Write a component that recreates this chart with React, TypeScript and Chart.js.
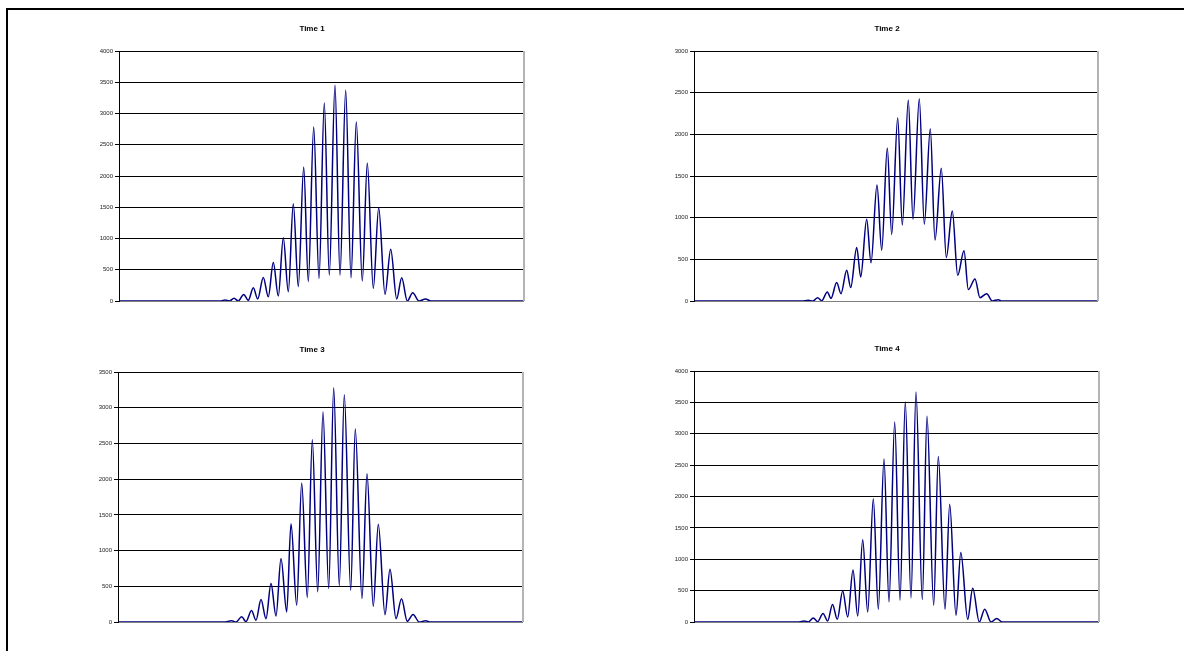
import React, { useEffect, useRef } from 'react';
import { Chart, registerables } from 'chart.js';

Chart.register(...registerables);

const FONT = "'Liberation Sans', Arial, sans-serif";

// Positions along the detector (arbitrary units) and intensity values
const positions1 = [0, 102, 106, 110.5, 115, 119.3, 124.7, 129.3, 134.3, 138.7, 144.3, 149.3, 154.3, 159.3, 164.3, 169.3, 174.3, 179.3, 184.7, 189.3, 194.7, 200, 205.3, 210.3, 216, 221, 226.7, 232, 237.3, 243.3, 248.3, 254.3, 259.7, 266, 271.7, 277.7, 282.7, 288.3, 293.7, 300, 306.5, 312, 404];
const values1 = [0, 0, 15, 0, 43, 0, 106, 11, 212, 32, 378, 69, 615, 80, 1012, 149, 1557, 229, 2144, 309, 2784, 362, 3168, 415, 3451, 415, 3371, 372, 2864, 319, 2208, 202, 1493, 106, 830, 32, 372, 0, 133, 0, 32, 0, 0];

const positions2 = [0, 108, 114.3, 119, 123.7, 127.7, 133.3, 137, 142.7, 147, 152.7, 156.7, 162.7, 166.7, 172.7, 177, 183, 187.7, 193.3, 197.7, 203.7, 208.3, 214.3, 219, 225.3, 230.3, 236.3, 241, 247.3, 252.3, 258.3, 263.7, 270, 274.3, 281, 286, 292.7, 298.3, 304.3, 307.7, 403];
const values2 = [0, 0, 8, 0, 40, 4, 108, 32, 221, 88, 369, 161, 641, 289, 981, 458, 1391, 610, 1837, 799, 2199, 912, 2412, 980, 2428, 920, 2066, 731, 1592, 522, 1081, 309, 602, 137, 265, 40, 88, 0, 16, 0, 0];

const positions3 = [0, 105, 112.7, 117, 122.7, 127, 132.5, 137, 142, 147, 152, 157, 162, 167.7, 172, 177.7, 182.7, 188.3, 193.3, 198.7, 204, 209.7, 214.7, 220.3, 225.3, 231.7, 236.3, 243, 248, 254.3, 259.3, 266, 271, 277, 282.5, 288.3, 294, 300.3, 306.5, 311.7, 403];
const values3 = [0, 0, 18, 0, 72, 5, 162, 23, 314, 47, 538, 84, 889, 141, 1377, 235, 1946, 342, 2553, 422, 2940, 469, 3281, 506, 3183, 446, 2702, 328, 2077, 220, 1367, 103, 739, 47, 325, 9, 105, 0, 16, 0, 0];

const positions4 = [0, 105, 110.3, 114.3, 119.3, 123.7, 129, 133.7, 138.5, 143.3, 148.7, 153.7, 159, 163.7, 168.7, 173.7, 179.3, 184.3, 190, 195, 200.7, 206, 211.3, 217, 222, 228.3, 233, 239.7, 244.3, 251, 255.7, 262, 266.8, 273.7, 278.7, 285.3, 290.7, 297, 302.7, 308.3, 404];
const values4 = [0, 0, 15, 0, 64, 5, 136, 16, 280, 43, 494, 80, 830, 96, 1309, 160, 1963, 203, 2596, 321, 3187, 348, 3506, 385, 3665, 358, 3277, 267, 2639, 203, 1878, 107, 1107, 43, 536, 0, 205, 0, 55, 0, 0];

const titles = ['Time 1', 'Time 2', 'Time 3', 'Time 4'];
const yMaxes = [4000, 3000, 3500, 4000];
const yStep = 500;

const plotBorder = {
  id: 'plotBorder',
  afterDraw(chart: any) {
    const { ctx, chartArea: a } = chart;
    ctx.save();
    ctx.strokeStyle = '#b4b4b4';
    ctx.lineWidth = 2;
    ctx.beginPath();
    ctx.moveTo(a.right + 1, a.top);
    ctx.lineTo(a.right + 1, a.bottom);
    ctx.stroke();
    ctx.restore();
  },
};

type PanelProps = {
  title: string;
  positions: number[];
  values: number[];
  yMax: number;
  xMin: number;
  xMax: number;
  left: number;
  top: number;
  width: number;
  height: number;
  yAxisWidth: number;
  rightWidth: number;
};

function Panel(p: PanelProps) {
  const ref = useRef<HTMLCanvasElement>(null);
  useEffect(() => {
    const chart = new Chart(ref.current as HTMLCanvasElement, {
      type: 'line',
      data: {
        datasets: [
          {
            data: p.positions.map((x, i) => ({ x, y: p.values[i] })),
            borderColor: '#000080',
            borderWidth: 1.5,
            pointRadius: 0,
            cubicInterpolationMode: 'monotone',
            fill: false,
          },
        ],
      },
      options: {
        responsive: false,
        animation: false,
        events: [],
        layout: { padding: 0 },
        plugins: {
          legend: { display: false },
          tooltip: { enabled: false },
          title: {
            display: true,
            text: p.title,
            color: '#000',
            font: { family: FONT, size: 8, weight: 'bold', lineHeight: 1.25 },
            padding: { top: 12, bottom: 17 },
          },
        },
        scales: {
          x: {
            type: 'linear',
            min: p.xMin,
            max: p.xMax,
            grid: { display: false },
            ticks: { display: false },
            border: { display: true, color: '#808080', width: 1 },
            afterFit: (s: any) => {
              s.height = 11;
            },
          },
          y: {
            type: 'linear',
            position: 'left',
            min: 0,
            max: p.yMax,
            ticks: {
              stepSize: yStep,
              color: '#222',
              font: { family: FONT, size: 6 },
              padding: 2,
              callback: (v: any) => String(v),
            },
            grid: { color: '#000', lineWidth: 1, tickLength: 4, drawTicks: true },
            border: { display: true, color: '#000', width: 1 },
            afterFit: (s: any) => {
              s.width = p.yAxisWidth;
            },
          },
          yR: {
            type: 'linear',
            position: 'right',
            display: true,
            grid: { display: false },
            ticks: { display: false },
            border: { display: false },
            afterFit: (s: any) => {
              s.width = p.rightWidth;
            },
          },
        },
      } as any,
      plugins: [plotBorder],
    });
    return () => chart.destroy();
  }, []);
  return (
    <canvas
      ref={ref}
      width={p.width}
      height={p.height}
      style={{ position: 'absolute', left: p.left, top: p.top, width: p.width, height: p.height }}
    />
  );
}

export default function App() {
  return (
    <div
      style={{
        position: 'absolute',
        left: 0,
        top: 0,
        width: 1184,
        height: 651,
        overflow: 'hidden',
        background: '#fff',
      }}
    >
      <div
        style={{
          position: 'absolute',
          left: 6,
          top: 8,
          width: 1300,
          height: 800,
          border: '2px solid #000',
        }}
      />
      <Panel title={titles[0]} positions={positions1} values={values1} yMax={yMaxes[0]} xMin={0} xMax={404}
        left={8} top={12} width={608} height={300} yAxisWidth={111} rightWidth={93} />
      <Panel title={titles[1]} positions={positions2} values={values2} yMax={yMaxes[1]} xMin={0} xMax={403}
        left={592} top={12} width={590} height={300} yAxisWidth={102} rightWidth={85} />
      <Panel title={titles[2]} positions={positions3} values={values3} yMax={yMaxes[2]} xMin={-1} xMax={403}
        left={8} top={333} width={608} height={300} yAxisWidth={110} rightWidth={94} />
      <Panel title={titles[3]} positions={positions4} values={values4} yMax={yMaxes[3]} xMin={0} xMax={404}
        left={592} top={332} width={590} height={301} yAxisWidth={102} rightWidth={84} />
    </div>
  );
}
